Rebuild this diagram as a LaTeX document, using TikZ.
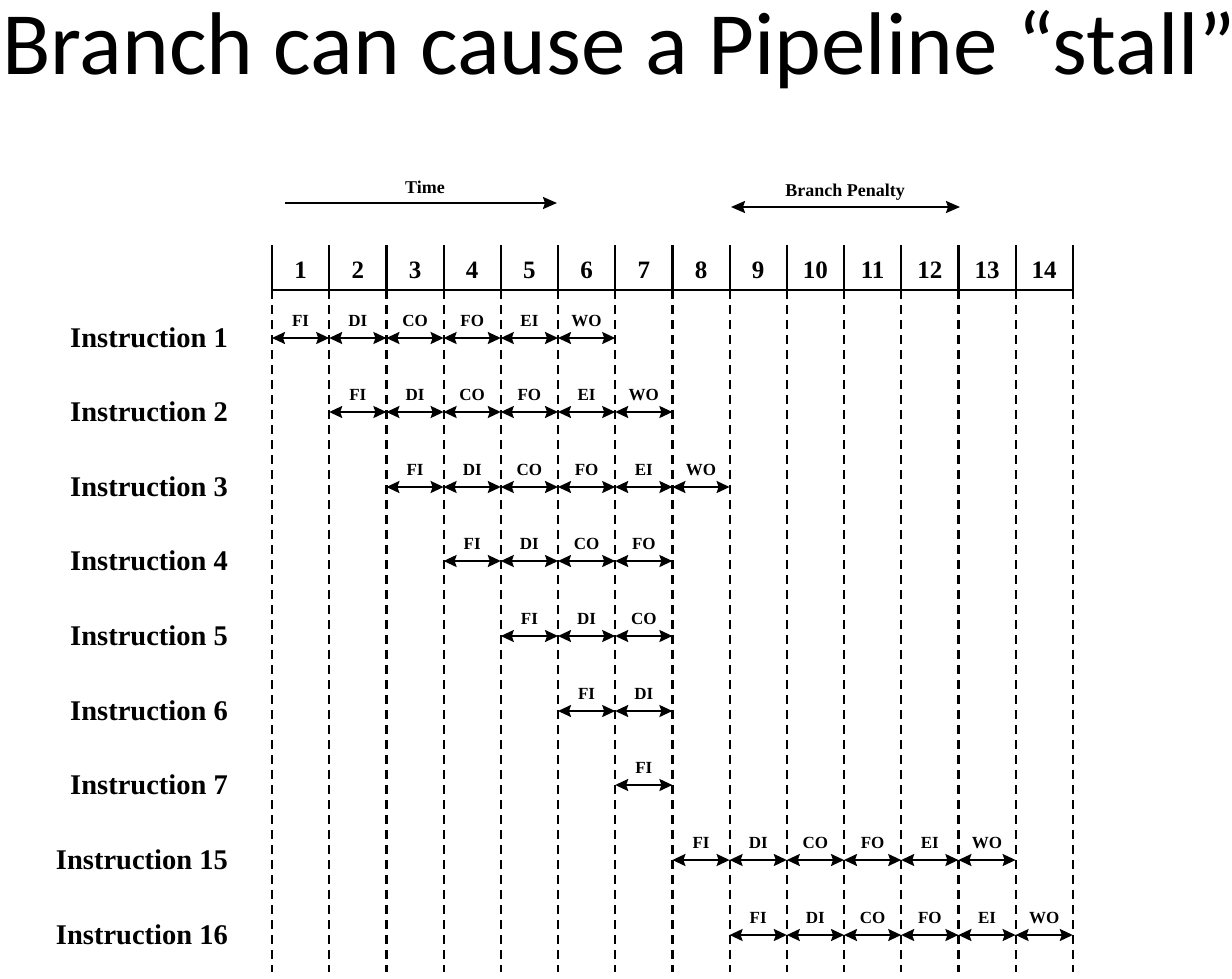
\documentclass[tikz,border=0pt]{standalone}
\usepackage{fontspec}
\setmainfont{Liberation Serif}
\newfontfamily\titlefont{Carlito}
\usetikzlibrary{arrows.meta}
\begin{document}
\begin{tikzpicture}[x=1pt,y=-1pt,
  stagearrow/.style={line width=2pt,{Stealth[length=13pt,width=12pt,inset=2pt]}-{Stealth[length=13pt,width=12pt,inset=2pt]}},
  stagelbl/.style={font=\bfseries\fontsize{17}{17}\selectfont,inner sep=0pt},
  instlbl/.style={font=\bfseries\fontsize{28.5}{28.5}\selectfont,anchor=east,inner sep=0pt},
  numlbl/.style={font=\bfseries\fontsize{25}{25}\selectfont,inner sep=0pt},
  toplbl/.style={font=\bfseries\fontsize{18}{18}\selectfont,inner sep=0pt},
  gridline/.style={line width=2.2pt,dash pattern=on 9pt off 6pt},
  headline/.style={line width=2.2pt}]
\useasboundingbox (0,0) rectangle (1232,978);
\node[font=\titlefont\fontsize{89}{89}\selectfont,anchor=west,inner sep=0pt] (title) at (2,50) {Branch can cause a Pipeline “stall”};
\foreach \i in {0,...,14}{
  \coordinate (t\i) at ({272+57.2*\i},245);
  \coordinate (h\i) at ({272+57.2*\i},290);
  \coordinate (b\i) at ({272+57.2*\i},972);
  \draw[headline] (t\i) -- (h\i);
  \draw[gridline] (h\i) -- (b\i);
}
\draw[headline] (h0) -- (h14);
\foreach \i in {1,...,14}{
  \node[numlbl] (n\i) at ({272+57.2*\i-28.6},270) {\i};
}
\coordinate (ta) at (285,203); \coordinate (tb) at (557,203);
\draw[line width=2pt,-{Stealth[length=14pt,width=12pt,inset=2pt]}] (ta) -- (tb);
\node[toplbl] (time) at (425,187) {Time};
\coordinate (pa) at (731,207); \coordinate (pb) at (960,207);
\draw[line width=2pt,{Stealth[length=14pt,width=12pt,inset=2pt]}-{Stealth[length=14pt,width=12pt,inset=2pt]}] (pa) -- (pb);
\node[toplbl] (pen) at (845,192) {Branch Penalty};
\foreach \nm/\y/\s/\c [count=\r] in {1/338/0/6,2/412/1/6,3/487/2/6,4/561/3/4,5/636/4/3,6/711/5/2,7/785/6/1,15/860/7/6,16/935/8/6}{
  \node[instlbl] (i\r) at (228,\y) {Instruction \nm};
  \foreach \st [count=\k from 0] in {FI,DI,CO,FO,EI,WO}{
    \ifnum\k<\c
      \pgfmathsetmacro\xa{272+57.2*(\s+\k)}
      \coordinate (a\r\k) at (\xa,\y);
      \coordinate (e\r\k) at (\xa+57.2,\y);
      \draw[stagearrow] (a\r\k) -- (e\r\k);
      \node[stagelbl] (l\r\k) at (\xa+28.6,\y-17) {\st};
    \fi
  }
}
\end{tikzpicture}
\end{document}
